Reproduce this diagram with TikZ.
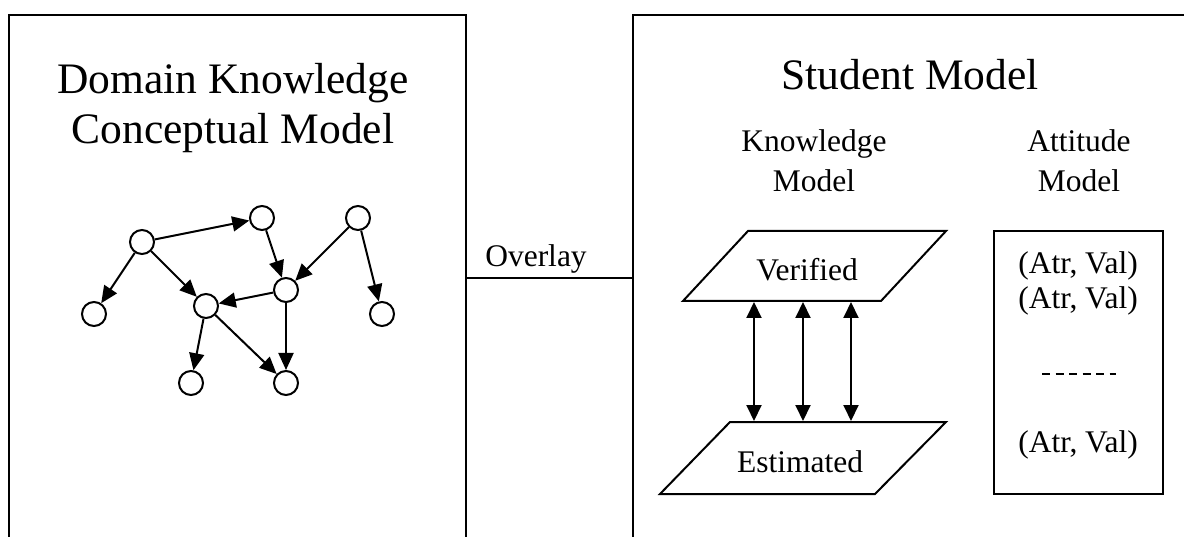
\documentclass[tikz,border=0pt]{standalone}
\usepackage{fontspec}
\setmainfont{Liberation Serif}
\usetikzlibrary{arrows.meta,positioning,calc}

\begin{document}
\begin{tikzpicture}[x=1pt, y=-1pt,
		every node/.style={align=center, inner sep=0pt},
		titleText/.style={font=\fontsize{43.5}{50}\selectfont},
		labelText/.style={font=\fontsize{31.5}{40}\selectfont},
		panelLine/.style={line width=2pt},
		conceptVertex/.style={
				draw, shape=circle,
				minimum size=24pt, line width=2pt
			},
		every edge/.style={draw, -{Triangle[length=17pt, width=15pt]}, line width=2pt},
		linkArrow/.style={{Triangle[length=16pt, width=15pt]}-{Triangle[length=16pt, width=15pt]}, line width=2pt}
	]
	\useasboundingbox (0,0) rectangle (1184,537);

	% Left panel
	\draw[panelLine] (9,537) -- (9,15) -- (466,15) -- (466,537);
	\node[titleText] (domain) at (233,108) {Domain Knowledge\\Conceptual Model};

	% Concept graph
	\node[conceptVertex] (c1) at (142,242) {};
	\node[conceptVertex] (c2) at (262,218) {};
	\node[conceptVertex] (c3) at (358,218) {};
	\node[conceptVertex] (c4) at (94,314) {};
	\node[conceptVertex] (c5) at (206,306) {};
	\node[conceptVertex] (c6) at (286,290) {};
	\node[conceptVertex] (c7) at (382,314) {};
	\node[conceptVertex] (c8) at (191,383) {};
	\node[conceptVertex] (c9) at (286,383) {};
	\path (c1) edge (c2)
		(c1) edge (c4)
		(c1) edge (c5)
		(c2) edge (c6)
		(c3) edge (c6)
		(c3) edge (c7)
		(c6) edge (c5)
		(c5) edge (c8)
		(c5) edge (c9)
		(c6) edge (c9);

	% Overlay link
	\coordinate (ovL) at (466,278);
	\coordinate (ovR) at (633,278);
	\draw[panelLine] (ovL) -- (ovR);
	\node[labelText, anchor=base] (overlay) at (536,267) {Overlay};

	% Right panel
	\draw[panelLine] (1184,15) -- (633,15) -- (633,537);
	\node[titleText, anchor=base] (student) at (910,90) {Student Model};
	\node[labelText] (knowledge) at (814,161) {Knowledge\\Model};
	\node[labelText] (attitude) at (1079,161) {Attitude\\Model};

	% Knowledge model planes
	\draw[panelLine] (683,301) -- (881,301) -- (946,231) -- (748,231) -- cycle;
	\draw[panelLine] (660,494) -- (875,494) -- (946,422) -- (730,422) -- cycle;
	\node[labelText, anchor=base] (verified) at (807,281) {Verified};
	\node[labelText, anchor=base] (estimated) at (800,472) {Estimated};
	\foreach \x [count=\i] in {754,803,851} {
		\coordinate (v\i) at (\x,302);
		\coordinate (e\i) at (\x,421);
		\draw[linkArrow] (v\i) -- (e\i);
	}

	% Attitude model box
	\node[draw, panelLine, minimum width=169pt, minimum height=263pt] (attbox) at (1078.5,362.5) {};
	\node[labelText, anchor=base] (pair1) at (1078,274) {(Atr, Val)};
	\node[labelText, anchor=base] (pair2) at (1078,309) {(Atr, Val)};
	\coordinate (dotsL) at (1042,374);
	\coordinate (dotsR) at (1116,374);
	\draw[line width=1.2pt, dash pattern=on 8pt off 5.5pt] (dotsL) -- (dotsR);
	\node[labelText, anchor=base] (pair3) at (1078,452) {(Atr, Val)};
\end{tikzpicture}
\end{document}
